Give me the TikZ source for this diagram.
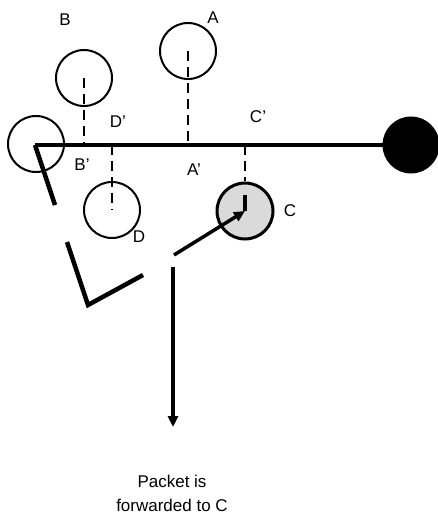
\documentclass[tikz,border=0pt]{standalone}
\usepackage{fontspec}
\setmainfont{Liberation Sans}
\usetikzlibrary{arrows.meta, positioning}
\definecolor{cInk}{HTML}{000000}
\definecolor{cHit}{HTML}{DADADA}
\tikzset{
  nbr/.style={circle, draw=cInk, line width=2pt, minimum size=56pt, inner sep=0pt},
  hit/.style={nbr, fill=cHit, line width=3pt},
  sink/.style={circle, fill=cInk, minimum size=57pt, inner sep=0pt},
  lab/.style={font=\fontsize{17}{24}\selectfont, text=cInk, inner sep=0pt},
  route/.style={line width=3.5pt, draw=cInk},
  proj/.style={line width=1.8pt, draw=cInk, dash pattern=on 10pt off 6pt},
  fwd/.style={-{Triangle[length=11pt, width=10pt]}, line width=3.5pt, draw=cInk},
  wedge/.style={line width=4.5pt, draw=cInk},
}

\begin{document}
\begin{tikzpicture}[x=1pt, y=-1pt]
  \useasboundingbox (0,0) rectangle (438,521);

  % ---- source, destination and neighbours
  \node[nbr]  (src) at (36,144) {};
  \node[sink] (dst) at (411,145) {};
  \node[nbr]  (nB)  at (84,78)   {};
  \node[nbr]  (nA)  at (188,51)  {};
  \node[nbr]  (nD)  at (112,210) {};
  \node[hit]  (nC)  at (245,211) {};

  % ---- projections on the line to the destination
  \coordinate (pB) at (84,145);
  \coordinate (pA) at (188,145);
  \coordinate (pD) at (112,145);
  \coordinate (pC) at (245,145);

  \draw[route] (35,145) -- (dst.center);
  \draw[proj] (nB.center) -- (pB);
  \draw[proj] (nA.center) -- (pA);
  \draw[proj] (pD) -- (nD.center);
  \draw[proj] (pC) -- (nC.north);

  % ---- labels
  \node[lab] (lB)  at (65,20)   {B};
  \node[lab] (lA)  at (213,18)  {A};
  \node[lab] (lDp) at (118,122) {D'};
  \node[lab] (lBp) at (82,165)  {B'};
  \node[lab] (lAp) at (194,170) {A'};
  \node[lab] (lCp) at (258,117) {C'};
  \node[lab] (lD)  at (139,237) {D};
  \node[lab] (lC)  at (290,211) {C};

  % ---- forwarding angle
  \coordinate (w1) at (55,205);
  \coordinate (w2) at (67,242);
  \coordinate (w3) at (88,305);
  \coordinate (w4) at (143,275);
  \draw[wedge] (35,145) -- (w1);
  \draw[wedge, line join=miter] (w2) -- (w3) -- (w4);

  % ---- choice of C
  \coordinate (h0) at (245,195);
  \coordinate (a0) at (174,255);
  \draw[route] (h0) -- (nC.center);
  \draw[fwd] (a0) -- (nC.center);

  % ---- result
  \coordinate (r0) at (173,267);
  \node[lab, align=center] (res) at (172,493) {Packet is\\forwarded to C};
  \draw[fwd] (r0) -- (173,427);
\end{tikzpicture}
\end{document}
